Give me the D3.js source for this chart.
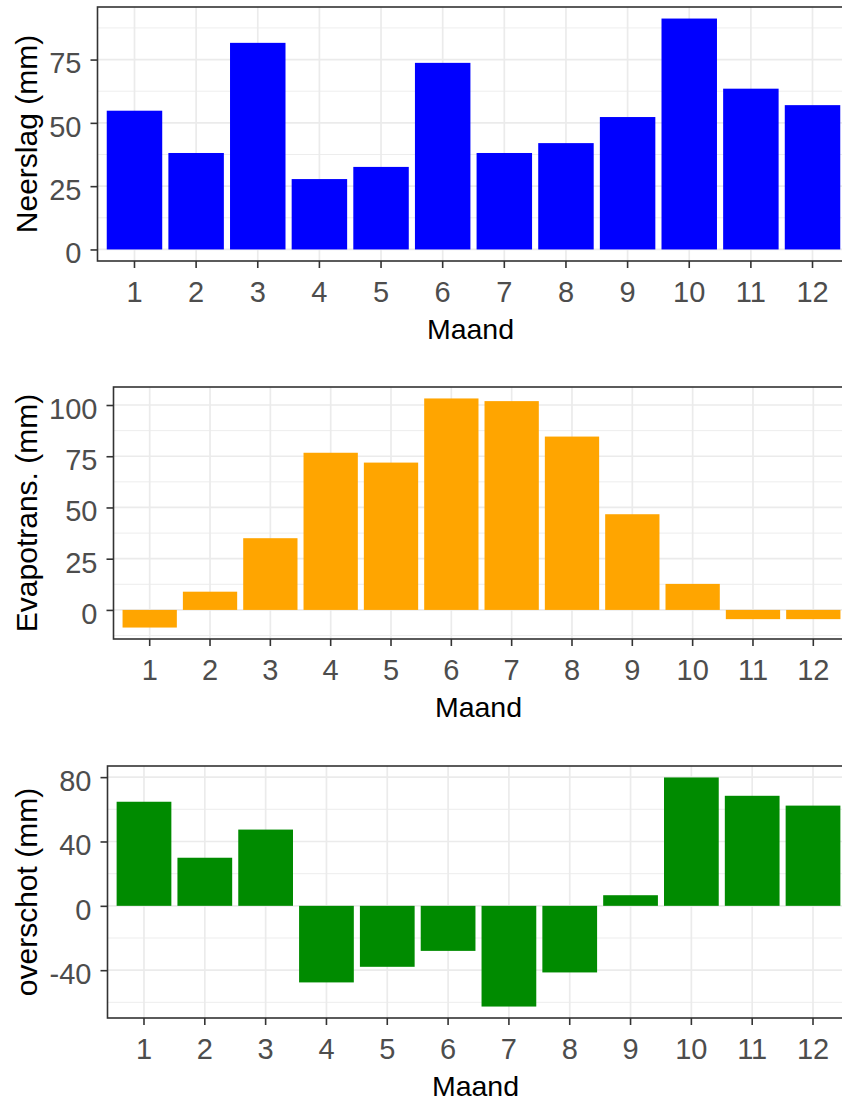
<!DOCTYPE html>
<html>
<head>
<meta charset="utf-8">
<script src="https://cdn.jsdelivr.net/npm/d3@7"></script>
<style>
  html, body { margin: 0; padding: 0; background: #fff; overflow: hidden; }
  svg { display: block; font-family: "Liberation Sans", Arial, sans-serif; }
</style>
</head>
<body>
<svg id="chart" width="842" height="1101"></svg>
<script>
// Monthly water balance: precipitation, evapotranspiration and surplus (mm)
const months = ["1", "2", "3", "4", "5", "6", "7", "8", "9", "10", "11", "12"];
const neerslag = [54.8, 38.1, 81.6, 27.8, 32.6, 73.7, 38.1, 42.0, 52.3, 91.2, 63.5, 57.0];
const evapotrans = [-8.6, 8.9, 35.0, 76.7, 71.9, 103.2, 101.9, 84.6, 46.7, 12.7, -4.5, -4.5];
const overschot = [64.7, 29.9, 47.4, -47.6, -37.9, -28.0, -62.6, -41.4, 6.6, 79.8, 68.4, 62.3];

const neerslagTicks = [0, 25, 50, 75];
const evapotransTicks = [0, 25, 50, 75, 100];
const overschotTicks = [-40, 0, 40, 80];

const xTitle = "Maand";

const panels = [
  { values: neerslag, ticks: neerslagTicks, title: "Neerslag (mm)", fill: "#0000FF",
    left: 97.5, top: 7, bottom: 261 },
  { values: evapotrans, ticks: evapotransTicks, title: "Evapotrans. (mm)", fill: "#FFA500",
    left: 113.5, top: 387, bottom: 639 },
  { values: overschot, ticks: overschotTicks, title: "overschot (mm)", fill: "#008B00",
    left: 107.5, top: 766, bottom: 1018 }
];

const right = 849.5;
const tickFont = 29;
const xTitleFont = 28.5;
const yTitleFont = 30;
const svg = d3.select("#chart");

panels.forEach(p => {
  const g = svg.append("g");
  const data = months.map((m, i) => ({ m, v: p.values[i] }));

  // x: discrete months, bars 0.9 wide, 0.6 unit padding at both ends
  const x = d3.scaleBand().domain(months).range([p.left, right])
    .paddingInner(0.1).paddingOuter(0.15);

  // y: data range incl. zero, expanded by 5% on each side
  const lo = Math.min(0, d3.min(p.values));
  const hi = Math.max(0, d3.max(p.values));
  const pad = (hi - lo) * 0.05;
  const y = d3.scaleLinear().domain([lo - pad, hi + pad]).range([p.bottom, p.top]);

  // minor grid values halfway between the major ticks
  const step = p.ticks[1] - p.ticks[0];
  const minor = [];
  for (let t = p.ticks[0] - step / 2; t <= y.domain()[1]; t += step) {
    if (t >= y.domain()[0]) minor.push(t);
  }

  // panel background + grid
  g.append("rect").attr("x", p.left).attr("y", p.top)
    .attr("width", right - p.left).attr("height", p.bottom - p.top).attr("fill", "#fff");

  g.append("g").selectAll("line").data(minor).join("line")
    .attr("x1", p.left).attr("x2", right)
    .attr("y1", d => y(d)).attr("y2", d => y(d))
    .attr("stroke", "#EBEBEB").attr("stroke-width", 0.9);

  g.append("g").selectAll("line").data(p.ticks).join("line")
    .attr("x1", p.left).attr("x2", right)
    .attr("y1", d => y(d)).attr("y2", d => y(d))
    .attr("stroke", "#EBEBEB").attr("stroke-width", 1.7);

  g.append("g").selectAll("line").data(months).join("line")
    .attr("x1", d => x(d) + x.bandwidth() / 2).attr("x2", d => x(d) + x.bandwidth() / 2)
    .attr("y1", p.top).attr("y2", p.bottom)
    .attr("stroke", "#EBEBEB").attr("stroke-width", 1.7);

  // bars
  g.append("g").selectAll("rect").data(data).join("rect")
    .attr("x", d => x(d.m))
    .attr("width", x.bandwidth())
    .attr("y", d => y(Math.max(0, d.v)))
    .attr("height", d => Math.abs(y(d.v) - y(0)))
    .attr("fill", p.fill);

  // panel border
  g.append("rect").attr("x", p.left).attr("y", p.top)
    .attr("width", right - p.left).attr("height", p.bottom - p.top)
    .attr("fill", "none").attr("stroke", "#333333").attr("stroke-width", 1.6);

  // axes
  const xAxis = g.append("g").attr("transform", `translate(0,${p.bottom})`)
    .call(d3.axisBottom(x).tickSize(7).tickPadding(14));
  const yAxis = g.append("g").attr("transform", `translate(${p.left},0)`)
    .call(d3.axisLeft(y).tickValues(p.ticks).tickFormat(d => String(d))
      .tickSize(7).tickPadding(9));

  [xAxis, yAxis].forEach(a => {
    a.select(".domain").remove();
    a.selectAll(".tick line").attr("stroke", "#333333").attr("stroke-width", 1.6);
    a.selectAll(".tick text").attr("fill", "#4D4D4D")
      .attr("font-size", tickFont).attr("font-family", null);
  });
  yAxis.selectAll(".tick text").attr("dy", "0.46em");
  xAxis.selectAll(".tick text").attr("dy", "0.69em");

  // axis titles
  g.append("text")
    .attr("x", (p.left + right) / 2 - 3).attr("y", p.bottom + 78)
    .attr("text-anchor", "middle").attr("font-size", xTitleFont).attr("fill", "#000")
    .text(xTitle);

  g.append("text")
    .attr("transform", `translate(37,${(p.top + p.bottom) / 2}) rotate(-90)`)
    .attr("text-anchor", "middle").attr("font-size", yTitleFont).attr("fill", "#000")
    .text(p.title);
});
</script>
</body>
</html>
